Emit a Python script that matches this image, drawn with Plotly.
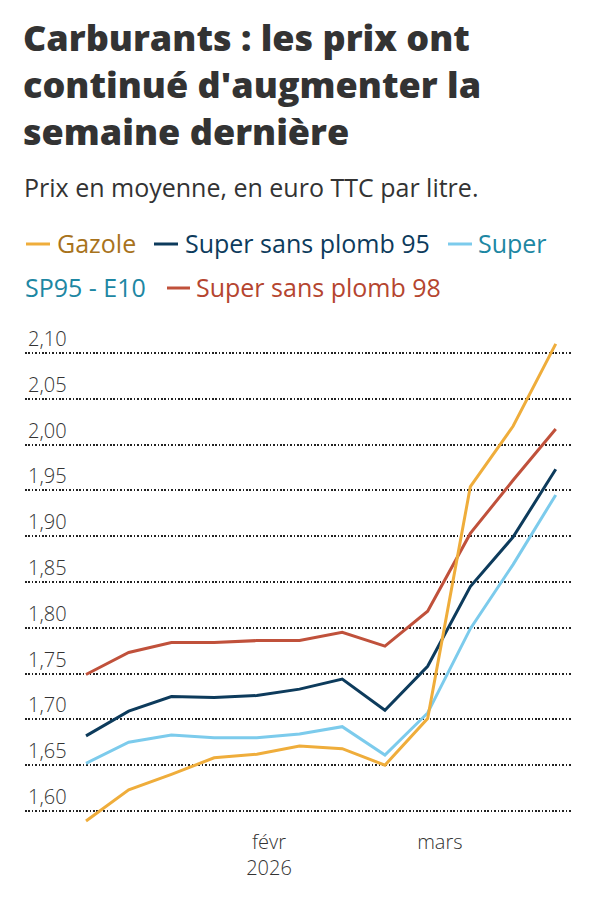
import plotly.graph_objects as go

# ---- data ----
dates = ["2026-01-02", "2026-01-09", "2026-01-16", "2026-01-23", "2026-01-30", "2026-02-06",
         "2026-02-13", "2026-02-20", "2026-02-27", "2026-03-06", "2026-03-13", "2026-03-20"]
gazole = [1.589, 1.623, 1.640, 1.658, 1.662, 1.671, 1.668, 1.650, 1.701, 1.954, 2.020, 2.110]
sp95 = [1.682, 1.709, 1.725, 1.724, 1.726, 1.733, 1.744, 1.710, 1.758, 1.845, 1.899, 1.973]
e10 = [1.652, 1.675, 1.683, 1.680, 1.680, 1.684, 1.692, 1.661, 1.707, 1.799, 1.869, 1.945]
sp98 = [1.749, 1.773, 1.784, 1.784, 1.786, 1.786, 1.795, 1.780, 1.818, 1.903, 1.961, 2.017]

series_names = ["Gazole", "Super sans plomb 95", "Super SP95 - E10", "Super sans plomb 98"]
series_values = [gazole, sp95, e10, sp98]
line_colors = ["#efad3b", "#0d3b5c", "#7ccbec", "#c0513b"]
text_colors = ["#a8731c", "#0d3b5c", "#1d87a3", "#b5452f"]

y_ticks = [1.60, 1.65, 1.70, 1.75, 1.80, 1.85, 1.90, 1.95, 2.00, 2.05, 2.10]
y_tick_text = ["1,60", "1,65", "1,70", "1,75", "1,80", "1,85", "1,90", "1,95", "2,00", "2,05", "2,10"]
x_ticks = ["2026-02-01", "2026-03-01"]
x_tick_text = ["févr<br>2026", "mars"]

title_lines = ["Carburants : les prix ont", "continué d'augmenter la", "semaine dernière"]
subtitle = "Prix en moyenne, en euro TTC par litre."

FONT = "Open Sans"
W_PX, H_PX = 598, 900
L, R, T, B = 25, 27, 320, 72
PW, PH = W_PX - L - R, H_PX - T - B


def xp(px):
    return (px - L) / PW


def yp(py):
    return (H_PX - B - py) / PH


fig = go.Figure()
for name, vals, col in reversed(list(zip(series_names, series_values, line_colors))):
    fig.add_trace(go.Scatter(x=dates, y=vals, mode="lines", name=name,
                             line=dict(color=col, width=3), showlegend=False))

annotations = [
    dict(text="<br>".join(title_lines), x=xp(21), y=yp(85),
         xref="paper", yref="paper", xanchor="left", yanchor="middle",
         align="left", showarrow=False,
         font=dict(family=FONT, size=36, color="#333333", weight=800)),
    dict(text=subtitle, x=xp(22), y=yp(187), xref="paper", yref="paper",
         xanchor="left", yanchor="middle", align="left", showarrow=False,
         font=dict(family=FONT, size=25, color="#333333")),
]

# manual legend (wraps like the original)
legend_items = [
    # (marker x0, x1, text x, row y, text, colour index, has marker)
    (26, 50, 55, 243, series_names[0], 0, True),
    (154, 178, 183, 243, series_names[1], 1, True),
    (448, 472, 476, 243, "Super", 2, True),
    (None, None, 23, 287, "SP95 - E10", 2, False),
    (167, 190, 194, 287, series_names[3], 3, True),
]
shapes = []
for x0, x1, tx, ty, txt, idx, has_marker in legend_items:
    if has_marker:
        shapes.append(dict(type="line", xref="paper", yref="paper", x0=xp(x0), x1=xp(x1),
                           y0=yp(ty + 1), y1=yp(ty + 1), line=dict(color=line_colors[idx], width=3)))
    annotations.append(dict(text=txt, x=xp(tx), y=yp(ty), xref="paper", yref="paper",
                            xanchor="left", yanchor="middle", showarrow=False,
                            font=dict(family=FONT, size=25, color=text_colors[idx])))

fig.update_layout(
    width=W_PX, height=H_PX,
    margin=dict(l=L, r=R, t=T, b=B, pad=0),
    paper_bgcolor="white", plot_bgcolor="white",
    font=dict(family=FONT, color="#333333"),
    showlegend=False,
    annotations=annotations,
    shapes=shapes,
    xaxis=dict(type="date", range=["2025-12-23", "2026-03-22 12:00"],
               tickvals=x_ticks, ticktext=x_tick_text, showgrid=False, zeroline=False,
               showline=False, ticks="",
               tickfont=dict(family=FONT, size=20, color="#333333", weight=300)),
    yaxis=dict(range=[1.5814, 2.136], tickvals=y_ticks, ticktext=y_tick_text,
               showgrid=True, gridcolor="#222222", gridwidth=1.6, griddash="1.6px,1.8px",
               zeroline=False, showline=False, ticks="",
               ticklabelposition="inside top",
               tickfont=dict(family=FONT, size=20, color="#333333", weight=300)),
)

fig.write_html("out.html")
